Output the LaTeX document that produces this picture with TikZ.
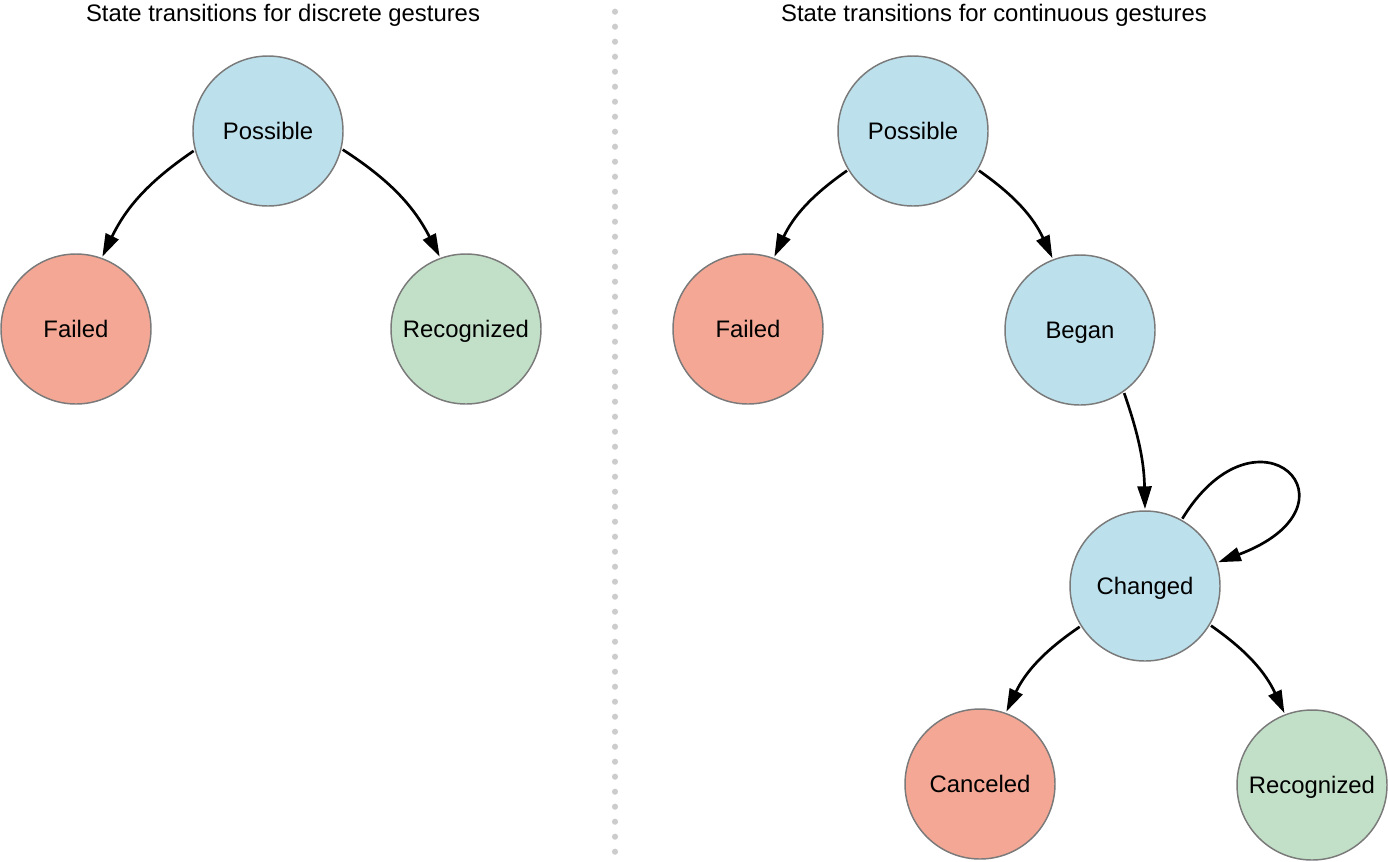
\documentclass[tikz,border=0pt]{standalone}
\usepackage{fontspec}
\setmainfont{Liberation Sans}
\usetikzlibrary{arrows.meta}
\definecolor{stblue}{HTML}{BCE0EC}
\definecolor{stred}{HTML}{F3A794}
\definecolor{stgreen}{HTML}{C2E0C7}
\definecolor{stborder}{HTML}{7A7A7A}
\definecolor{dotgray}{HTML}{CCCCCC}
\begin{document}
\begin{tikzpicture}[x=0.75pt,y=-0.75pt,
  state/.style={circle,draw=stborder,line width=1.1pt,minimum size=112.5pt,inner sep=0pt,outer sep=1.5pt,
    font=\fontsize{17.9}{20}\selectfont,text height=13.1pt,text depth=0pt},
  sblue/.style={state,fill=stblue},
  sred/.style={state,fill=stred},
  sgreen/.style={state,fill=stgreen},
  title/.style={font=\fontsize{17.9}{20}\selectfont,inner sep=0pt,anchor=base},
  trans/.style={line width=2pt,-{Triangle[length=17pt,width=10.5pt]}}]
\useasboundingbox (0,0) rectangle (1388,861);
% titles
\node[title] (t1) at (283,21) {State transitions for discrete gestures};
\node[title] (t2) at (994,21) {State transitions for continuous gestures};
% divider
\foreach \i in {0,...,56} {\fill[dotgray] (615,{11.7+15*\i}) circle (2.3pt);}
% left diagram
\node[sblue] (lp) at (268,131) {Possible};
\node[sred] (lf) at (76,329) {Failed};
\node[sgreen] (lr) at (466,329) {Recognized};
\draw[trans] (lp.195) to[bend right=15] (lf.70);
\draw[trans] (lp.346) to[bend left=15] (lr.110);
% right diagram
\node[sblue] (rp) at (913,131) {Possible};
\node[sred] (rf) at (748,329) {Failed};
\node[sblue] (rb) at (1080,330) {Began};
\node[sblue] (rc) at (1145,586) {Changed};
\node[sred] (rx) at (980,784) {Canceled};
\node[sgreen] (rr) at (1312,785) {Recognized};
\draw[trans] (rp.211) to[bend right=15] (rf.70);
\draw[trans] (rp.-31) to[bend left=15] (rb.111);
\draw[trans] (rb.305) to[bend left=9] (rc.90);
\draw[trans] (rc.61) .. controls (1258,395) and (1370,505) .. (rc.18);
\draw[trans] (rc.212) to[bend right=15] (rx.70);
\draw[trans] (rc.-31) to[bend left=15] (rr.111);
\end{tikzpicture}
\end{document}
